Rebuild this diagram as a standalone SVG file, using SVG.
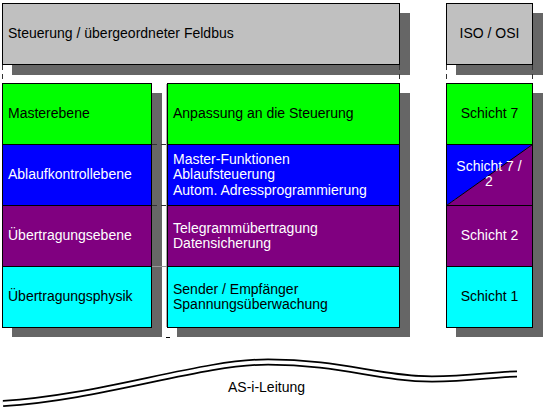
<svg xmlns="http://www.w3.org/2000/svg" width="546" height="410" viewBox="0 0 546 410">
<style>
  .sh { fill: #666666; }
  .box { stroke: #000; stroke-width: 1; }
  .gray { fill: #c0c0c0; }
  .green { fill: #00ff00; }
  .blue { fill: #0000ff; }
  .purple { fill: #800080; }
  .cyan { fill: #00ffff; }
  text { font-family: "Liberation Sans", Arial, sans-serif; font-size: 14px; fill: #000; }
  .w { fill: #fff; }
  .mid { text-anchor: middle; }
  .dash { stroke: #333; stroke-width: 1; stroke-dasharray: 5 4; fill: none; }
</style>
<rect width="546" height="410" fill="#fff"/>
<!-- shadows -->
<g id="shadows">
  <rect class="sh" x="12" y="13" width="398" height="62"/>
  <rect class="sh" x="456" y="13" width="87" height="62"/>
  <rect class="sh" x="12" y="93" width="150" height="244"/>
  <rect class="sh" x="177" y="93" width="233" height="244"/>
  <rect class="sh" x="456" y="93" width="87" height="244"/>
</g>
<g id="connectors">
  <line class="dash" x1="2.5" y1="65" x2="2.5" y2="83"/>
  <line class="dash" x1="399.5" y1="65" x2="399.5" y2="83"/>
  <line class="dash" x1="446.5" y1="65" x2="446.5" y2="83"/>
  <line class="dash" x1="532.5" y1="65" x2="532.5" y2="83"/>
  <line x1="166.5" y1="84" x2="166.5" y2="327" stroke="#aaa" stroke-width="1"/>
  <line class="dash" x1="152" y1="144.5" x2="168" y2="144.5"/>
  <line class="dash" x1="152" y1="205.5" x2="168" y2="205.5"/>
  <line x1="152" y1="266.5" x2="168" y2="266.5" stroke="#999" stroke-width="1"/>
  <line x1="166" y1="337.5" x2="170" y2="337.5" stroke="#000" stroke-width="1"/>
</g>
<g id="header">
  <rect class="box gray" x="2.5" y="3.5" width="397" height="61"/>
  <text x="8" y="38">Steuerung / übergeordneter Feldbus</text>
</g>
<g id="iso-osi">
  <rect class="box gray" x="446.5" y="3.5" width="86" height="61"/>
  <text class="mid" x="489.5" y="38">ISO / OSI</text>
</g>
<g id="masterebene">
  <rect class="box green" x="2.5" y="83.5" width="149" height="61"/>
  <text x="8" y="118">Masterebene</text>
</g>
<g id="ablaufkontrollebene">
  <rect class="box blue" x="2.5" y="144.5" width="149" height="61"/>
  <text class="w" x="8" y="179">Ablaufkontrollebene</text>
</g>
<g id="uebertragungsebene">
  <rect class="box purple" x="2.5" y="205.5" width="149" height="61"/>
  <text class="w" x="8" y="240">Übertragungsebene</text>
</g>
<g id="uebertragungsphysik">
  <rect class="box cyan" x="2.5" y="266.5" width="149" height="61"/>
  <text x="8" y="301">Übertragungsphysik</text>
</g>
<g id="anpassung">
  <rect class="box green" x="167.5" y="83.5" width="232" height="61"/>
  <text x="173" y="118">Anpassung an die Steuerung</text>
</g>
<g id="master-funktionen">
  <rect class="box blue" x="167.5" y="144.5" width="232" height="61"/>
  <text class="w" x="173" y="163.5">Master-Funktionen</text>
  <text class="w" x="173" y="179">Ablaufsteuerung</text>
  <text class="w" x="173" y="194.5">Autom. Adressprogrammierung</text>
</g>
<g id="telegramm">
  <rect class="box purple" x="167.5" y="205.5" width="232" height="61"/>
  <text class="w" x="173" y="232.5">Telegrammübertragung</text>
  <text class="w" x="173" y="248">Datensicherung</text>
</g>
<g id="sender">
  <rect class="box cyan" x="167.5" y="266.5" width="232" height="61"/>
  <text x="173" y="293.5">Sender / Empfänger</text>
  <text x="173" y="309">Spannungsüberwachung</text>
</g>
<g id="schicht7">
  <rect class="box green" x="446.5" y="83.5" width="86" height="61"/>
  <text class="mid" x="489.5" y="118">Schicht 7</text>
</g>
<g id="schicht7-2">
  <polygon points="446.5,144.5 532.5,144.5 446.5,205.5" fill="#0000ff"/>
  <polygon points="532.5,144.5 532.5,205.5 446.5,205.5" fill="#800080"/>
  <line x1="446.5" y1="205.5" x2="532.5" y2="144.5" stroke="#000" stroke-width="1"/>
  <rect x="446.5" y="144.5" width="86" height="61" fill="none" stroke="#000" stroke-width="1"/>
  <text class="w mid" x="489" y="171">Schicht 7 /</text>
  <text class="w mid" x="489" y="186">2</text>
</g>
<g id="schicht2">
  <rect class="box purple" x="446.5" y="205.5" width="86" height="61"/>
  <text class="w mid" x="489.5" y="240">Schicht 2</text>
</g>
<g id="schicht1">
  <rect class="box cyan" x="446.5" y="266.5" width="86" height="61"/>
  <text class="mid" x="489.5" y="301">Schicht 1</text>
</g>
<g id="as-i-leitung">
  <path d="M3,403.5 C100,398 200,362 268,362 C340,362 380,379 432,379 C470,379 495,374 517,374" fill="none" stroke="#000" stroke-width="7"/>
  <path d="M3,403.5 C100,398 200,362 268,362 C340,362 380,379 432,379 C470,379 495,374 517,374" fill="none" stroke="#fff" stroke-width="3.5"/>
  <text class="mid" x="266.5" y="391.5">AS-i-Leitung</text>
</g>
</svg>
